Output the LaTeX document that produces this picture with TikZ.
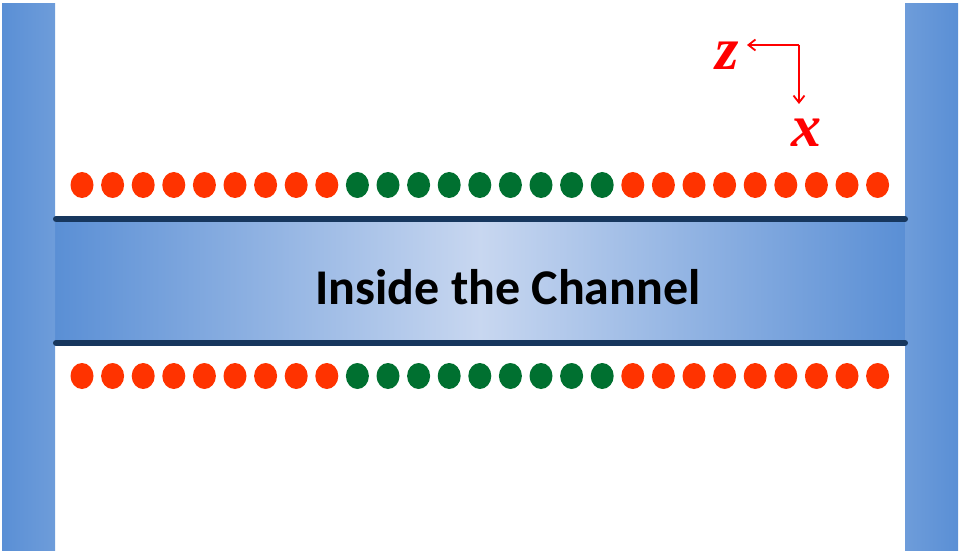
\documentclass[tikz,border=0pt]{standalone}
\usepackage{fontspec}
\setmainfont{Carlito}
\newfontfamily\serifbf{Liberation Serif}
\definecolor{wallblue}{HTML}{5A8FD5}
\definecolor{chanlight}{HTML}{C8D7F0}
\definecolor{lineblue}{HTML}{17375E}
\definecolor{dotorange}{HTML}{FF3300}
\definecolor{dotgreen}{HTML}{007030}
\definecolor{axred}{HTML}{FF0000}
\tikzset{
  dotnode/.style={ellipse, minimum width=23pt, minimum height=26pt, inner sep=0pt},
  orangedot/.style={dotnode, fill=dotorange},
  greendot/.style={dotnode, fill=dotgreen},
  wallline/.style={lineblue, line width=6pt, line cap=round},
  axarrow/.style={axred, line width=1.8pt, -{Straight Barb[length=7pt,width=11pt]}}
}
\usetikzlibrary{shapes.geometric,arrows.meta}
\begin{document}
\begin{tikzpicture}[x=1pt,y=-1pt]
\useasboundingbox (0,0) rectangle (960,556);
% channel gradient
\shade[left color=wallblue, right color=chanlight] (55,222) rectangle (480,343);
\shade[left color=chanlight, right color=wallblue] (480,222) rectangle (905,343);
% walls
\shade[left color=wallblue, right color=wallblue!88!white] (2,4) rectangle (55,550);
\shade[left color=wallblue!88!white, right color=wallblue] (905,4) rectangle (958,550);
% channel lines
\draw[wallline] (56,219) -- (905,219);
\draw[wallline] (56,343) -- (905,343);
\node (lbl) at (508,287) {\fontsize{50}{56}\selectfont\bfseries Inside the Channel};
% dots
\foreach \i in {0,...,26}{
  \pgfmathsetmacro{\xx}{82+\i*30.6}
  \ifnum\i<9 \def\st{orangedot}\else\ifnum\i<18 \def\st{greendot}\else\def\st{orangedot}\fi\fi
  \node[\st] (t\i) at (\xx,185) {};
  \node[\st] (b\i) at (\xx,376) {};
}
% axes
\coordinate (o) at (799,45);
\coordinate (zend) at (747,45);
\coordinate (xend) at (799,104);
\draw[axarrow] (o) -- (zend);
\draw[axarrow] (o) -- (xend);
\node[text=axred] (zl) at (727,56) {\serifbf\fontsize{60}{60}\selectfont\bfseries\itshape z};
\node[text=axred] (xl) at (806,133) {\serifbf\fontsize{60}{60}\selectfont\bfseries\itshape x};
\end{tikzpicture}
\end{document}
